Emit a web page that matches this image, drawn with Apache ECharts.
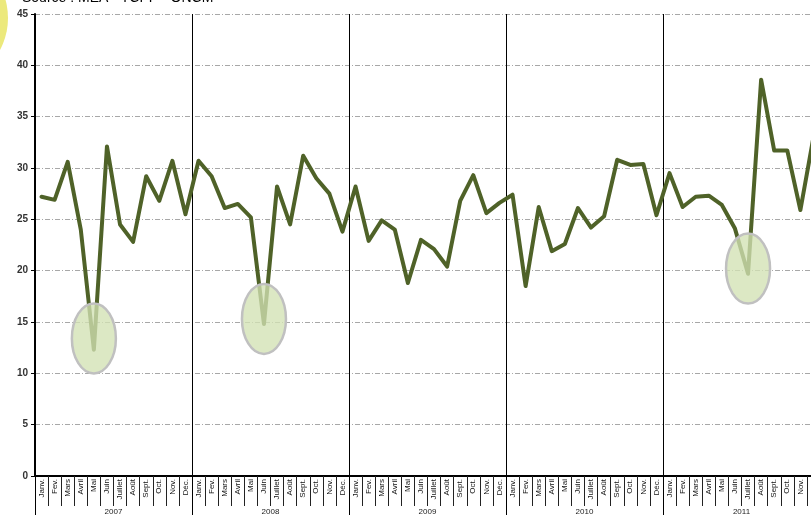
<!DOCTYPE html>
<html>
<head>
<meta charset="utf-8">
<script src="https://cdn.jsdelivr.net/npm/echarts@6/dist/echarts.min.js"></script>
<style>
html, body { margin: 0; padding: 0; background: #fff; }
#chart { width: 811px; height: 515px; }
</style>
</head>
<body>
<div id="chart"></div>
<script>
var monthNames = ['Janv.', 'Fev.', 'Mars', 'Avril', 'Mai', 'Juin', 'Juillet', 'Août', 'Sept.', 'Oct.', 'Nov.', 'Déc.'];
var years = ['2007', '2008', '2009', '2010', '2011'];

var values2007 = [27.2, 26.9, 30.6, 24.0, 12.3, 32.1, 24.5, 22.8, 29.2, 26.8, 30.7, 25.5];
var values2008 = [30.7, 29.2, 26.1, 26.5, 25.2, 14.8, 28.2, 24.5, 31.2, 29.0, 27.5, 23.8];
var values2009 = [28.2, 22.9, 24.9, 24.0, 18.8, 23.0, 22.1, 20.4, 26.8, 29.3, 25.6, 26.6];
var values2010 = [27.4, 18.5, 26.2, 21.9, 22.6, 26.1, 24.2, 25.3, 30.8, 30.3, 30.4, 25.4];
var values2011 = [29.5, 26.2, 27.2, 27.3, 26.4, 24.1, 19.7, 38.6, 31.7, 31.7, 25.9, 33.0];

// mois entourés (index dans la série) et niveau du centre de l'ellipse
var highlightMonths = [4, 17, 54];
var highlightLevels = [13.4, 15.3, 20.2];

var categories = [];
years.forEach(function (y) {
    monthNames.forEach(function (m) { categories.push(m); });
});
var values = [].concat(values2007, values2008, values2009, values2010, values2011);

var myChart = echarts.init(document.getElementById('chart'));
var option = {
    animation: false,
    backgroundColor: '#ffffff',
    grid: { left: 35, width: 785, top: 14, bottom: 39, outerBoundsMode: 'none', containLabel: false },
    xAxis: [{
        type: 'category',
        data: categories,
        boundaryGap: true,
        axisLine: { show: true, lineStyle: { color: '#000', width: 2 } },
        axisTick: { show: true, interval: 0, length: 30, lineStyle: { color: '#222', width: 1 } },
        axisLabel: {
            interval: 0, rotate: 90, margin: 3,
            fontSize: 8, fontFamily: 'Liberation Sans, Arial', color: '#111'
        },
        splitLine: { show: false }
    }, {
        type: 'category',
        data: years,
        position: 'bottom',
        boundaryGap: true,
        axisLine: { show: false },
        axisTick: { show: true, interval: 0, length: 45, lineStyle: { color: '#000', width: 1 } },
        axisLabel: {
            interval: 0, margin: 32,
            fontSize: 8, fontFamily: 'Liberation Sans, Arial', color: '#222'
        },
        splitLine: { show: true, interval: 0, lineStyle: { color: '#000', width: 1 } }
    }],
    yAxis: {
        type: 'value',
        min: 0,
        max: 45,
        interval: 5,
        axisLine: { show: true, lineStyle: { color: '#000', width: 2 } },
        axisTick: { show: true, length: 4, lineStyle: { color: '#000', width: 1 } },
        axisLabel: {
            margin: 7, fontSize: 10, fontWeight: 'bold',
            fontFamily: 'Liberation Sans, Arial', color: '#333'
        },
        splitLine: { show: true, lineStyle: { color: '#a8a8a8', width: 1, type: [5, 2, 1, 2] } }
    },
    series: [{
        type: 'line',
        data: values,
        xAxisIndex: 0,
        symbol: 'none',
        lineStyle: { color: '#4f6228', width: 4, cap: 'round', join: 'round' },
        z: 3
    }]
};
myChart.setOption(option);

// ellipses de mise en évidence + décor du haut
var graphics = [{
    type: 'circle',
    shape: { cx: -60, cy: 18, r: 68 },
    style: { fill: '#ece97c' },
    z: 1
}, {
    type: 'text',
    left: 22,
    top: -9,
    style: { text: 'Source : MEA - TCPP - ONCM', fontSize: 14, fontFamily: 'Liberation Sans, Arial', fill: '#000' },
    z: 1
}];
for (var i = 0; i < highlightMonths.length; i++) {
    var p = myChart.convertToPixel({ xAxisIndex: 0, yAxisIndex: 0 }, [highlightMonths[i], highlightLevels[i]]);
    graphics.push({
        type: 'ellipse',
        shape: { cx: p[0], cy: p[1], rx: 22, ry: 35 },
        style: { fill: 'rgba(210,226,180,0.78)', stroke: '#c0c0c0', lineWidth: 2.5 },
        z: 100
    });
}
myChart.setOption({ graphic: graphics });
</script>
</body>
</html>
